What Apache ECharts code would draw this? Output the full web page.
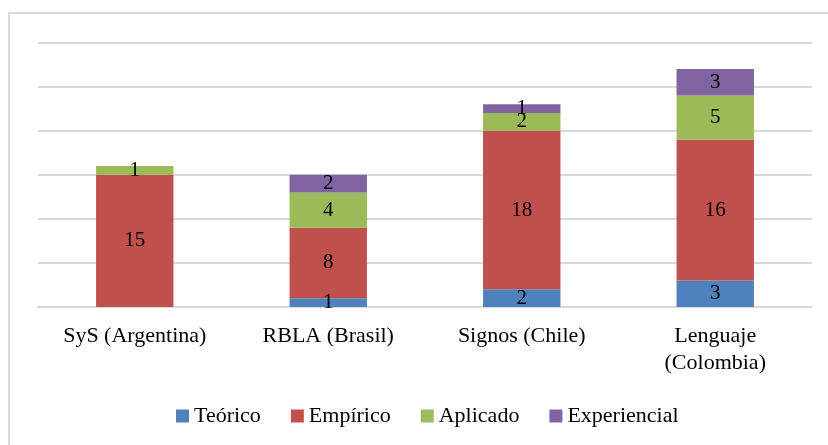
<!DOCTYPE html>
<html>
<head>
<meta charset="utf-8">
<script src="https://cdn.jsdelivr.net/npm/echarts@6/dist/echarts.min.js"></script>
<style>
html,body{margin:0;padding:0;background:#fff;overflow:hidden;}
#frame{position:absolute;left:8px;top:12px;width:840px;height:460px;border:2px solid #d9d9d9;box-sizing:border-box;}
#chart{position:absolute;left:0;top:0;width:828px;height:445px;}
</style>
</head>
<body>
<div id="frame"></div>
<div id="chart"></div>
<script>
var categorias = ['SyS (Argentina)', 'RBLA (Brasil)', 'Signos (Chile)', 'Lenguaje\n(Colombia)'];
var teorico = [0, 1, 2, 3];
var empirico = [15, 8, 18, 16];
var aplicado = [1, 4, 2, 5];
var experiencial = [0, 2, 1, 3];

var fuente = '"Liberation Serif", "DejaVu Serif", serif';

function serie(nombre, datos, color) {
    return {
        name: nombre,
        type: 'bar',
        stack: 'total',
        barWidth: '40%',
        data: datos.map(function (v) { return v === 0 ? null : v; }),
        itemStyle: { color: color },
        label: {
            show: true,
            position: 'inside',
            color: '#000',
            fontFamily: fuente,
            fontSize: 21
        }
    };
}

var myChart = echarts.init(document.getElementById('chart'));
var option = {
    animation: false,
    textStyle: { fontFamily: fuente },
    grid: { left: 38, right: 16, top: 42.5, bottom: 138 },
    legend: {
        bottom: 13,
        left: 171,
        itemWidth: 13,
        itemHeight: 13,
        itemGap: 30,
        icon: 'rect',
        textStyle: { fontFamily: fuente, fontSize: 22, color: '#000' },
        data: ['Teórico', 'Empírico', 'Aplicado', 'Experiencial']
    },
    xAxis: {
        type: 'category',
        data: categorias,
        axisTick: { show: false },
        axisLine: { lineStyle: { color: '#d9d9d9', width: 2 } },
        axisLabel: {
            color: '#000',
            fontFamily: fuente,
            fontSize: 22,
            margin: 16,
            lineHeight: 27
        }
    },
    yAxis: {
        type: 'value',
        min: 0,
        max: 30,
        interval: 5,
        axisLabel: { show: false },
        axisLine: { show: false },
        axisTick: { show: false },
        splitLine: { lineStyle: { color: '#d9d9d9', width: 2 } }
    },
    series: [
        serie('Teórico', teorico, '#4f81bd'),
        serie('Empírico', empirico, '#c0504d'),
        serie('Aplicado', aplicado, '#9bbb59'),
        serie('Experiencial', experiencial, '#8064a2')
    ]
};
myChart.setOption(option);
</script>
</body>
</html>
